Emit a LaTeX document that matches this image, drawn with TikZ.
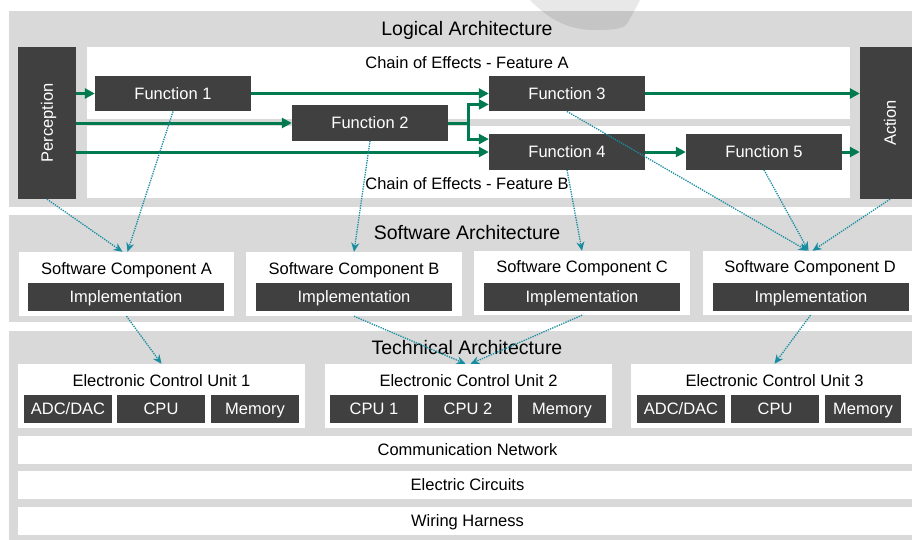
\documentclass[tikz,border=0pt]{standalone}
\usepackage{fontspec}
\setmainfont{Liberation Sans}
\usetikzlibrary{arrows.meta}

\definecolor{bandgray}{RGB}{217,217,217}
\definecolor{boxdark}{RGB}{64,64,64}
\definecolor{flowgreen}{RGB}{0,122,78}
\definecolor{tracecyan}{RGB}{24,140,160}

\tikzset{
  txt/.style={inner sep=0pt, font=\fontsize{16.5}{19}\selectfont, text height=11.8pt, text depth=0pt},
  heading/.style={inner sep=0pt, font=\fontsize{19.5}{22}\selectfont, text height=14pt, text depth=0pt},
  panel/.style={fill=white, inner sep=0pt},
  dark/.style={txt, fill=boxdark, text=white},
  fn/.style={dark, minimum width=156pt, minimum height=35.5pt},
  side/.style={dark, rotate=90, minimum width=152pt},
  impl/.style={dark, minimum width=196pt, minimum height=28pt},
  chip/.style={dark, minimum width=88pt, minimum height=28pt},
  strip/.style={txt, fill=white, minimum width=899pt, minimum height=28pt},
  flowarrow/.style={draw=flowgreen, line width=3pt, -{Triangle[length=10pt,width=10pt]}},
  tracearrow/.style={draw=tracecyan, line width=1.3pt, dash pattern=on 1.3pt off 1.1pt, -{Stealth[length=9pt,width=8pt]}}
}

\begin{document}
\begin{tikzpicture}[x=1pt, y=-1pt]
  \clip (0,0) rectangle (912,539);
  \fill[bandgray] (9,11) rectangle (926,207);
  \fill[bandgray] (9,215) rectangle (926,322);
  \fill[bandgray] (9,331) rectangle (926,545);
  \fill[black, opacity=0.09] (528,-2) .. controls (546,17) and (566,30) .. (594,30) .. controls (612,30) and (623,29) .. (627,24) .. controls (632,15) and (637,6) .. (641,-2) -- cycle;

  \node[heading] (logic) at (467,28.5) {Logical Architecture};
  \node[panel, minimum width=763pt, minimum height=72pt] (chainA) at (468.5,83) {};
  \node[panel, minimum width=763pt, minimum height=72pt] (chainB) at (468.5,162) {};
  \node[txt] (featA) at (467,62.5) {Chain of Effects - Feature A};
  \node[txt] (featB) at (467,183.3) {Chain of Effects - Feature B};
  \node[side, minimum height=58pt] (perc) at (47,123) {Perception};
  \node[side, minimum height=60pt] (act) at (890,123) {Action};
  \node[fn] (f1) at (173,93.5) {Function 1};
  \node[fn] (f2) at (370,123) {Function 2};
  \node[fn] (f3) at (567,93.5) {Function 3};
  \node[fn] (f4) at (567,152) {Function 4};
  \node[fn] (f5) at (764,152) {Function 5};
  \coordinate (split) at (468,123);

  \draw[flowarrow] (perc.south |- f1) -- (f1.west);
  \draw[flowarrow] (perc.south |- f2) -- (f2.west);
  \draw[flowarrow] (perc.south |- f4) -- (f4.west);
  \draw[flowarrow] (f1.east) -- (f3.west);
  \draw[flowarrow] (f2.east) -- (split) |- ([yshift=7pt]f3.south west);
  \draw[flowarrow] (split) |- ([yshift=-5pt]f4.north west);
  \draw[flowarrow] (f3.east) -- (act.north |- f3);
  \draw[flowarrow] (f4.east) -- (f5.west);
  \draw[flowarrow] (f5.east) -- (act.north |- f5);

  \node[heading] (soft) at (467,232.2) {Software Architecture};
  \node[panel, minimum width=215pt, minimum height=64pt] (swA) at (126.5,284) {};
  \node[panel, minimum width=216pt, minimum height=64pt] (swB) at (354,284) {};
  \node[panel, minimum width=216pt, minimum height=64pt] (swC) at (582,283) {};
  \node[panel, minimum width=215pt, minimum height=64pt] (swD) at (810.5,283) {};
  \node[txt] (swAt) at (126.5,268.5) {Software Component A};
  \node[txt] (swBt) at (354,268.5) {Software Component B};
  \node[txt] (swCt) at (582,266.7) {Software Component C};
  \node[txt] (swDt) at (810,266.3) {Software Component D};
  \node[impl] (implA) at (126,297) {Implementation};
  \node[impl] (implB) at (354,297) {Implementation};
  \node[impl] (implC) at (582,297) {Implementation};
  \node[impl] (implD) at (811,297) {Implementation};

  \node[heading] (tech) at (467,347.5) {Technical Architecture};
  \node[panel, minimum width=287pt, minimum height=64pt] (ecu1) at (161.5,396) {};
  \node[panel, minimum width=287pt, minimum height=64pt] (ecu2) at (468.5,396) {};
  \node[panel, minimum width=287pt, minimum height=64pt] (ecu3) at (774.5,396) {};
  \node[txt] (ecu1t) at (161.5,380.3) {Electronic Control Unit 1};
  \node[txt] (ecu2t) at (468.5,380.3) {Electronic Control Unit 2};
  \node[txt] (ecu3t) at (774.5,380.3) {Electronic Control Unit 3};
  \node[chip] (adc1) at (68,409) {ADC/DAC};
  \node[chip] (cpu1) at (161,409) {CPU};
  \node[chip] (mem1) at (255,409) {Memory};
  \node[chip] (cpu2a) at (374,409) {CPU 1};
  \node[chip] (cpu2b) at (468,409) {CPU 2};
  \node[chip] (mem2) at (562,409) {Memory};
  \node[chip] (adc3) at (681,409) {ADC/DAC};
  \node[chip] (cpu3) at (775,409) {CPU};
  \node[chip, minimum width=76pt] (mem3) at (863,409) {Memory};
  \node[strip] (net) at (467.5,450) {Communication Network};
  \node[strip] (circ) at (467.5,485) {Electric Circuits};
  \node[strip] (harn) at (467.5,521) {Wiring Harness};

  \draw[tracearrow] (perc.west) -- ([xshift=-4pt]swA.north);
  \draw[tracearrow] (f1.south) -- ([xshift=1pt]swA.north);
  \draw[tracearrow] (f2.south) -- (swB.north);
  \draw[tracearrow] (f4.south) -- (swC.north);
  \draw[tracearrow] (f3.south) -- ([xshift=-3pt]swD.north);
  \draw[tracearrow] (f5.south) -- ([xshift=-2pt]swD.north);
  \draw[tracearrow] (act.west) -- ([xshift=2pt]swD.north);
  \draw[tracearrow] (swA.south) -- (ecu1.north);
  \draw[tracearrow] (swB.south) -- ([xshift=-3pt]ecu2.north);
  \draw[tracearrow] (swC.south) -- ([xshift=2pt]ecu2.north);
  \draw[tracearrow] (swD.south) -- (ecu3.north);
\end{tikzpicture}
\end{document}
